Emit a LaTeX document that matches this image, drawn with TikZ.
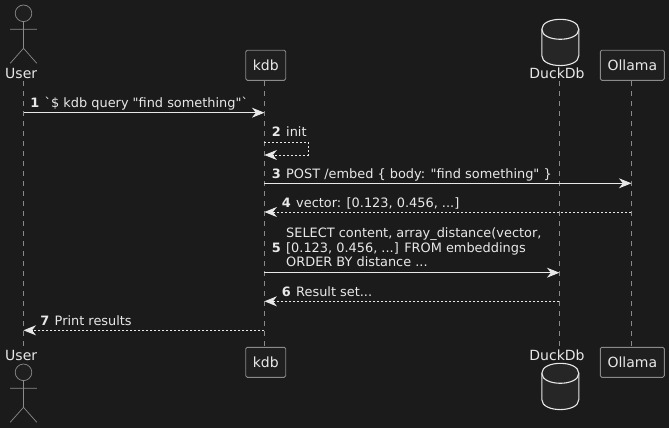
\documentclass[tikz,border=0pt]{standalone}
\usepackage{fontspec}
\setmainfont{DejaVu Sans}[Ligatures=TeXOff]
\usetikzlibrary{arrows.meta,shapes.geometric,positioning}
\definecolor{bgdark}{HTML}{1B1B1B}
\definecolor{boxfill}{HTML}{1F1F1F}
\definecolor{dbfill}{HTML}{262626}
\definecolor{linegray}{HTML}{8A8A8A}
\definecolor{textlight}{HTML}{E8E8E8}
\tikzset{
  partbox/.style={draw=linegray, fill=boxfill, rounded corners=1.5pt, line width=0.9pt, text=textlight,
    minimum height=30pt, inner xsep=0pt, inner ysep=0pt, font=\fontsize{14}{16}\selectfont},
  partname/.style={text=textlight, inner sep=0pt, font=\fontsize{14}{16}\selectfont},
  life/.style={draw=linegray, line width=0.8pt, dash pattern=on 5pt off 5pt},
  stick/.style={draw=linegray, line width=0.7pt},
  dbline/.style={draw=textlight, line width=1.1pt},
  msg/.style={draw=textlight, line width=0.9pt, -{Stealth[length=12.5pt,width=10pt,inset=4pt]}},
  ret/.style={msg, dash pattern=on 2pt off 2pt},
  lbl/.style={text=textlight, anchor=base west, inner sep=0pt, font=\fontsize{12.9}{15}\selectfont},
  num/.style={lbl, anchor=base east, font=\fontsize{12.9}{15}\selectfont\bfseries}
}
\newcommand{\stickman}[1]{% head centre is #1
  \begin{scope}[shift={#1}]
    \draw[stick, fill=boxfill] (0,0) circle (8.3);
    \draw[stick] (0,8.3) -- (0,35) (-13.3,16) -- (13.3,16) (-13.3,50) -- (0,35) -- (13.3,50);
  \end{scope}
}
\newcommand{\dbcyl}[1]{% top left corner is #1
  \begin{scope}[shift={#1}]
    \draw[dbline, fill=dbfill] (0,10) .. controls (0,-3.3) and (37,-3.3) .. (37,10)
      -- (37,36.3) .. controls (37,49.6) and (0,49.6) .. (0,36.3) -- cycle;
    \draw[dbline] (0,10) .. controls (0,23.3) and (37,23.3) .. (37,10);
  \end{scope}
}
\begin{document}
\begin{tikzpicture}[x=1pt,y=-1pt]
  \fill[bgdark] (0,0) rectangle (669,428);
  \useasboundingbox (0,0) rectangle (669,428);

  % participants on top
  \node[partname] (userTop) at (21.2,73) {User};
  \node[partbox, minimum width=40pt] (kdbTop) at (265.7,65.3) {kdb};
  \node[partname] (duckTop) at (557,73) {DuckDb};
  \node[partbox, minimum width=64pt] (ollamaTop) at (632.3,65.3) {Ollama};

  % participants at the bottom
  \node[partname] (userBot) at (21.2,355) {User};
  \node[partbox, minimum width=40pt] (kdbBot) at (265.7,362.3) {kdb};
  \node[partname] (duckBot) at (557,355) {DuckDb};
  \node[partbox, minimum width=64pt] (ollamaBot) at (632.3,362.3) {Ollama};

  % actors and databases
  \stickman{(23.5,13.3)}
  \stickman{(23.5,372.3)}
  \dbcyl{(541.8,19.3)}
  \dbcyl{(541.8,363.3)}

  % lifeline ends
  \coordinate (userA) at (23.5,81);
  \coordinate (userB) at (23.5,347);
  \coordinate (kdbA) at (264.4,81);
  \coordinate (kdbB) at (264.4,347);
  \coordinate (duckA) at (559.4,81);
  \coordinate (duckB) at (559.4,347);
  \coordinate (ollamaA) at (631.4,81);
  \coordinate (ollamaB) at (631.4,347);
  \draw[life] (userA) -- (userB);
  \draw[life] (kdbA) -- (kdbB);
  \draw[life] (duckA) -- (duckB);
  \draw[life] (ollamaA) -- (ollamaB);

  % message ends
  \coordinate (userM1) at (23.5,112.7);
  \coordinate (kdbM1) at (264.4,112.7);
  \coordinate (kdbM2) at (264.4,142);
  \coordinate (selfA) at (308,142);
  \coordinate (selfB) at (308,155);
  \coordinate (kdbM2b) at (264.4,155);
  \coordinate (kdbM3) at (264.4,183.3);
  \coordinate (ollamaM3) at (631.4,183.3);
  \coordinate (ollamaM4) at (631.4,212);
  \coordinate (kdbM4) at (264.4,212);
  \coordinate (kdbM5) at (264.4,272.7);
  \coordinate (duckM5) at (559.4,272.7);
  \coordinate (duckM6) at (559.4,301.3);
  \coordinate (kdbM6) at (264.4,301.3);
  \coordinate (kdbM7) at (264.4,330.3);
  \coordinate (userM7) at (23.5,330.3);

  % messages
  \draw[msg] (userM1) -- (kdbM1);
  \draw[ret] (kdbM2) -- (selfA) -- (selfB) -- (kdbM2b);
  \draw[msg] (kdbM3) -- (ollamaM3);
  \draw[ret] (ollamaM4) -- (kdbM4);
  \draw[msg] (kdbM5) -- (duckM5);
  \draw[ret] (duckM6) -- (kdbM6);
  \draw[ret] (kdbM7) -- (userM7);

  % labels
  \node[num] (n1) at (39.5,107.5) {1};
  \node[lbl] (t1) at (44.5,107.5) {`\$ kdb query "find something"`};
  \node[num] (n2) at (281,136) {2};
  \node[lbl] (t2) at (286,136) {init};
  \node[num] (n3) at (281,178.3) {3};
  \node[lbl] (t3) at (286,178.3) {POST /embed \{ body: "find something" \}};
  \node[num] (n4) at (291,207.7) {4};
  \node[lbl] (t4) at (296,207.7) {vector: [0.123, 0.456, ...]};
  \node[num] (n5) at (281,252) {5};
  \node[lbl] (t5a) at (286,237.3) {SELECT content, array\_distance(vector,};
  \node[lbl] (t5b) at (286,252) {[0.123, 0.456, ...] FROM embeddings};
  \node[lbl] (t5c) at (286,266.8) {ORDER BY distance ...};
  \node[num] (n6) at (291,296) {6};
  \node[lbl] (t6) at (296,296) {Result set...};
  \node[num] (n7) at (49.5,325) {7};
  \node[lbl] (t7) at (54.5,325) {Print results};
\end{tikzpicture}
\end{document}
